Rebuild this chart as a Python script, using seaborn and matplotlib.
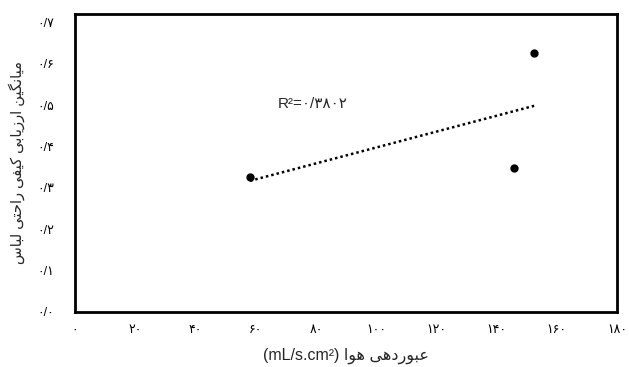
import numpy as np
import pandas as pd
import matplotlib
matplotlib.use("Agg")
import matplotlib.pyplot as plt
import seaborn as sns

# Measured samples: air permeability vs. mean subjective comfort score
air_permeability = [58.1, 145.8, 152.5]
comfort_score = [0.327, 0.349, 0.626]

x_ticks = [0, 20, 40, 60, 80, 100, 120, 140, 160, 180]
y_ticks = [0.0, 0.1, 0.2, 0.3, 0.4, 0.5, 0.6, 0.7]

r2_text = "R²=۰/۳۸۰۲"
x_title_fa = "عبوردهی هوا"
x_unit = "(mL/s.cm²)"
y_title_fa = "میانگین ارزیابی کیفی راحتی لباس"

# --- minimal Persian shaping (presentation forms) for matplotlib ---
# (isolated, final, initial, medial); two-entry tuples join only to the right
FORMS = {
    "ا": ("\uFE8D", "\uFE8E"),
    "ب": ("\uFE8F", "\uFE90", "\uFE91", "\uFE92"),
    "ت": ("\uFE95", "\uFE96", "\uFE97", "\uFE98"),
    "ح": ("\uFEA1", "\uFEA2", "\uFEA3", "\uFEA4"),
    "د": ("\uFEA9", "\uFEAA"),
    "ر": ("\uFEAD", "\uFEAE"),
    "ز": ("\uFEAF", "\uFEB0"),
    "س": ("\uFEB1", "\uFEB2", "\uFEB3", "\uFEB4"),
    "ع": ("\uFEC9", "\uFECA", "\uFECB", "\uFECC"),
    "ف": ("\uFED1", "\uFED2", "\uFED3", "\uFED4"),
    "ل": ("\uFEDD", "\uFEDE", "\uFEDF", "\uFEE0"),
    "م": ("\uFEE1", "\uFEE2", "\uFEE3", "\uFEE4"),
    "ن": ("\uFEE5", "\uFEE6", "\uFEE7", "\uFEE8"),
    "ه": ("\uFEE9", "\uFEEA", "\uFEEB", "\uFEEC"),
    "و": ("\uFEED", "\uFEEE"),
    "ک": ("\uFB8E", "\uFB8F", "\uFB90", "\uFB91"),
    "گ": ("\uFB92", "\uFB93", "\uFB94", "\uFB95"),
    "ی": ("\uFBFC", "\uFBFD", "\uFBFE", "\uFBFF"),
}


def shape_rtl(text):
    out = []
    n = len(text)
    for i, ch in enumerate(text):
        if ch not in FORMS:
            out.append(ch)
            continue
        forms = FORMS[ch]
        prev = text[i - 1] if i > 0 else ""
        nxt = text[i + 1] if i < n - 1 else ""
        join_prev = prev in FORMS and len(FORMS[prev]) == 4
        join_next = len(forms) == 4 and nxt in FORMS
        if join_prev and join_next:
            out.append(forms[3])
        elif join_prev:
            out.append(forms[1])
        elif join_next:
            out.append(forms[2])
        else:
            out.append(forms[0])
    return "".join(reversed(out))


FA_DIGITS = str.maketrans("0123456789.", "۰۱۲۳۴۵۶۷۸۹/")


def fa_num(v, fmt):
    return format(v, fmt).translate(FA_DIGITS)


sns.set_style("white")
plt.rcParams["font.family"] = ["Liberation Sans", "DejaVu Sans"]

df = pd.DataFrame({"x": air_permeability, "y": comfort_score})

fig = plt.figure(figsize=(6.29, 3.67), dpi=100)
ax = fig.add_axes([0.1192, 0.1499, 0.8617, 0.812])

sns.regplot(data=df, x="x", y="y", ax=ax, ci=None, scatter=False, truncate=True,
            line_kws=dict(color="black", linewidth=1.8, linestyle=(0, (1, 1.2))))
sns.scatterplot(data=df, x="x", y="y", ax=ax, color="black", s=36,
                edgecolor="black", linewidth=0, zorder=3)

ax.set_xlim(0, 180)
ax.set_ylim(0, 0.721)
ax.set_xticks(x_ticks)
ax.set_xticklabels([fa_num(v, "d") for v in x_ticks])
ax.set_yticks(y_ticks)
ax.set_yticklabels([fa_num(v, ".1f") for v in y_ticks])

ax.tick_params(axis="both", direction="out", length=5, width=1, color="black",
               labelsize=9, labelcolor="black")
ax.tick_params(axis="y", pad=10)
ax.tick_params(axis="x", pad=4)

for sp in ax.spines.values():
    sp.set_visible(True)
    sp.set_color("black")
    sp.set_linewidth(2)

ax.set_xlabel(x_unit + " " + shape_rtl(x_title_fa), fontsize=11.5, labelpad=8)
ax.set_ylabel(shape_rtl(y_title_fa), fontsize=10.5, labelpad=9)

ax.text(67.4, 0.502, r2_text, fontsize=11, va="center", ha="left")

fig.savefig("out.png", dpi=100)
